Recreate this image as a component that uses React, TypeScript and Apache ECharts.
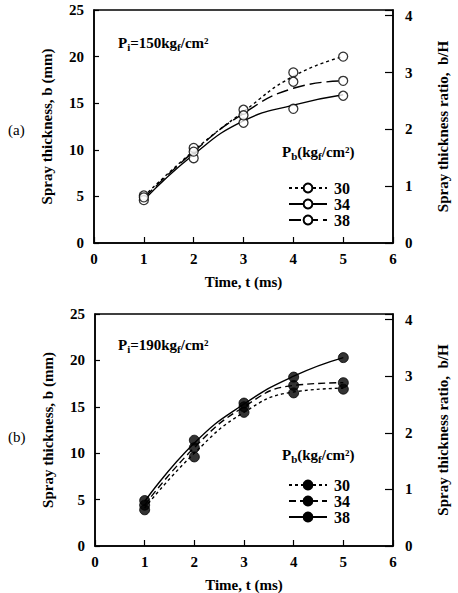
import React, { useEffect, useRef } from "react";
import * as echarts from "echarts";

// Time (ms)
const times = [1, 2, 3, 4, 5];

// (a) Pi = 150 kgf/cm² — measured points (hollow circles)
const aPts30 = [5.1, 10.2, 14.3, 18.3, 20.0];
const aPts34 = [4.6, 9.1, 12.9, 14.4, 15.8];
const aPts38 = [4.9, 9.8, 13.7, 17.3, 17.4];
// (a) fitted curves
const aFit30 = [5.0, 9.9, 14.1, 17.9, 20.0];
const aFit34 = [4.6, 9.5, 13.1, 14.8, 15.9];
const aFit38 = [4.8, 9.8, 13.9, 16.6, 17.4];

// (b) Pi = 190 kgf/cm² — measured points (filled circles)
const bPts30 = [3.9, 9.6, 14.4, 16.5, 16.9];
const bPts34 = [4.4, 10.6, 15.0, 17.3, 17.6];
const bPts38 = [4.9, 11.4, 15.4, 18.2, 20.3];
// (b) fitted curves
const bFit30 = [4.1, 10.0, 14.4, 16.6, 17.0];
const bFit34 = [4.4, 10.6, 15.0, 17.3, 17.6];
const bFit38 = [4.8, 11.1, 15.3, 18.3, 20.3];

const xTicks = [0, 6, 1];
const yTicks = [0, 25, 5];
const ratioMax = 4.1;

const FONT = "Liberation Serif";

const pairs = (arr: number[]) => times.map((t, i) => [t, arr[i]]);

export default function App() {
  const ref = useRef<HTMLDivElement>(null);
  useEffect(() => {
    if (!ref.current) return;
    const chart = echarts.init(ref.current, undefined, { renderer: "svg" });

    const grids = [
      { left: 94, top: 10, width: 313, height: 233 },
      { left: 95, top: 314, width: 313, height: 232 },
    ].map((g) => ({ ...g, show: true, borderColor: "#000", borderWidth: 1.5, backgroundColor: "transparent" }));

    const tickLabel = { color: "#000", fontFamily: FONT, fontSize: 15, fontWeight: "bold" as const };

    const xAxes = [0, 1].map((gi) => ({
      type: "value" as const,
      gridIndex: gi,
      min: xTicks[0],
      max: xTicks[1],
      interval: xTicks[2],
      name: "Time, t (ms)",
      nameLocation: "middle" as const,
      nameGap: 31,
      nameTextStyle: { ...tickLabel },
      axisLine: { show: true, lineStyle: { color: "#000", width: 1.5 } },
      axisTick: { show: true, inside: true, length: 6, lineStyle: { color: "#000", width: 1.2 } },
      axisLabel: { ...tickLabel, margin: 8 },
      splitLine: { show: false },
    }));

    const yAxes: any[] = [];
    [0, 1].forEach((gi) => {
      yAxes.push({
        type: "value",
        gridIndex: gi,
        position: "left",
        min: yTicks[0],
        max: yTicks[1],
        interval: yTicks[2],
        name: "Spray thickness, b (mm)",
        nameLocation: "middle",
        nameRotate: 90,
        nameGap: 40,
        nameTextStyle: { ...tickLabel },
        axisLine: { show: true, lineStyle: { color: "#000", width: 1.5 } },
        axisTick: { show: true, inside: true, length: 5, lineStyle: { color: "#000", width: 1.2 } },
        axisLabel: { ...tickLabel, margin: 10 },
        splitLine: { show: false },
      });
      yAxes.push({
        type: "value",
        gridIndex: gi,
        position: "right",
        min: 0,
        max: ratioMax,
        interval: 1,
        name: "Spray thickness ratio,  b/H",
        nameLocation: "middle",
        nameRotate: 90,
        nameGap: 42,
        nameTextStyle: { ...tickLabel },
        axisLine: { show: true, lineStyle: { color: "#000", width: 1.5 } },
        axisTick: { show: true, inside: true, length: 8, lineStyle: { color: "#000", width: 1.2 } },
        axisLabel: {
          ...tickLabel,
          margin: 12,
          formatter: (v: number) => (Math.abs(v - Math.round(v)) < 1e-6 ? String(Math.round(v)) : ""),
        },
        splitLine: { show: false },
      });
    });

    const dotted = [3, 3];
    const longDash = [12, 5];
    const midDash = [7, 4];

    const hollow = { color: "#fff", borderColor: "#000", borderWidth: 1.3 };
    const filled = { color: "#000", borderColor: "#000", borderWidth: 1 };

    const curve = (name: string, gi: number, data: number[], type: any, itemStyle: any) => ({
      name,
      type: "line" as const,
      xAxisIndex: gi,
      yAxisIndex: gi * 2,
      data: pairs(data),
      smooth: true,
      symbol: "circle",
      showSymbol: false,
      lineStyle: { color: "#000", width: 1.4, type },
      itemStyle,
      z: 2,
    });
    const points = (gi: number, data: number[], itemStyle: any, size: number) => ({
      type: "scatter" as const,
      xAxisIndex: gi,
      yAxisIndex: gi * 2,
      data: pairs(data),
      symbol: "circle",
      symbolSize: size,
      itemStyle,
      z: 3,
    });

    const series: any[] = [
      curve("a30", 0, aFit30, dotted, hollow),
      curve("a34", 0, aFit34, "solid", hollow),
      curve("a38", 0, aFit38, longDash, hollow),
      points(0, aPts30, hollow, 9),
      points(0, aPts34, hollow, 9),
      points(0, aPts38, hollow, 9),
      curve("b30", 1, bFit30, dotted, filled),
      curve("b34", 1, bFit34, midDash, filled),
      curve("b38", 1, bFit38, "solid", filled),
      points(1, bPts30, filled, 10),
      points(1, bPts34, filled, 10),
      points(1, bPts38, filled, 10),
    ];

    const legendBase = {
      orient: "vertical" as const,
      itemWidth: 38,
      itemHeight: 11,
      itemGap: 0,
      selectedMode: false,
      formatter: (n: string) => n.slice(1),
      textStyle: { ...tickLabel, fontSize: 16, lineHeight: 14, padding: [0, 0, 0, 2] },
    };

    const richStyles = {
      m: { fontFamily: FONT, fontSize: 15, fontWeight: "bold", fill: "#000" },
      s: { fontFamily: FONT, fontSize: 11, fontWeight: "bold", fill: "#000", padding: [8, 0, 0, 0], verticalAlign: "bottom" },
    };
    const pText = (x: number, y: number, text: string) => ({
      type: "text",
      x,
      y,
      style: { text, rich: richStyles as any, verticalAlign: "middle", align: "left", fill: "#000" },
    });

    chart.setOption({
      animation: false,
      grid: grids,
      xAxis: xAxes,
      yAxis: yAxes,
      series,
      legend: [
        { ...legendBase, left: 283, top: 175, data: ["a30", "a34", "a38"] },
        { ...legendBase, left: 283, top: 472, data: ["b30", "b34", "b38"] },
      ],
      graphic: [
        pText(118, 43, `{m|P}{s|i}{m|=150kg}{s|f}{m|/cm²}`),
        pText(118, 345, `{m|P}{s|i}{m|=190kg}{s|f}{m|/cm²}`),
        pText(282, 152, `{m|P}{s|b}{m|(kg}{s|f}{m|/cm²)}`),
        pText(282, 455, `{m|P}{s|b}{m|(kg}{s|f}{m|/cm²)}`),
        { type: "text", x: 8, y: 130, style: { text: "(a)", fontFamily: FONT, fontSize: 15, fill: "#000", verticalAlign: "middle" } },
        { type: "text", x: 8, y: 437, style: { text: "(b)", fontFamily: FONT, fontSize: 15, fill: "#000", verticalAlign: "middle" } },
      ],
    });
    return () => chart.dispose();
  }, []);

  return <div ref={ref} style={{ position: "fixed", left: 0, top: 0, width: 458, height: 593, background: "#fff" }} />;
}
